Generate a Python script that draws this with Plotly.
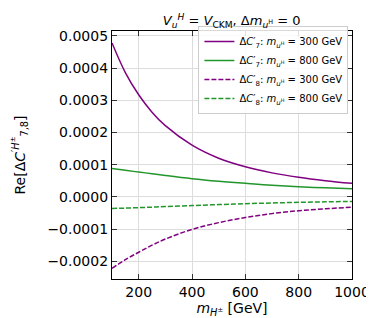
import plotly.graph_objects as go

# Data
m_H = [100, 150, 200, 250, 300, 400, 500, 600, 700, 800, 900, 1000]

c7_300 = [4.78e-4, 3.86e-4, 3.17e-4, 2.63e-4, 2.21e-4, 1.605e-4, 1.20e-4, 0.935e-4, 0.745e-4, 0.608e-4, 0.503e-4, 0.42e-4]
c7_800 = [0.88e-4, 0.825e-4, 0.77e-4, 0.72e-4, 0.665e-4, 0.565e-4, 0.485e-4, 0.42e-4, 0.36e-4, 0.315e-4, 0.28e-4, 0.25e-4]
c8_300 = [-2.22e-4, -1.95e-4, -1.72e-4, -1.50e-4, -1.31e-4, -1.01e-4, -0.80e-4, -0.64e-4, -0.52e-4, -0.43e-4, -0.37e-4, -0.32e-4]
c8_800 = [-0.36e-4, -0.35e-4, -0.335e-4, -0.32e-4, -0.30e-4, -0.27e-4, -0.24e-4, -0.21e-4, -0.19e-4, -0.17e-4, -0.155e-4, -0.14e-4]

x_ticks = [200, 400, 600, 800, 1000]
y_ticks = [-0.0002, -0.0001, 0.0, 0.0001, 0.0002, 0.0003, 0.0004, 0.0005]
y_ticklabels = ["\u22120.0002", "\u22120.0001", "0.0000", "0.0001", "0.0002", "0.0003", "0.0004", "0.0005"]

PURPLE = "#800080"
GREEN = "#22962a"

mlab = "<i>m</i><sub><i>u</i><sup>H</sup></sub>"
series = [
    (c7_300, PURPLE, "solid", "\u0394<i>C</i>\u2032<sub>7</sub>: " + mlab + " = 300 GeV"),
    (c7_800, GREEN, "solid", "\u0394<i>C</i>\u2032<sub>7</sub>: " + mlab + " = 800 GeV"),
    (c8_300, PURPLE, "5px,2px", "\u0394<i>C</i>\u2032<sub>8</sub>: " + mlab + " = 300 GeV"),
    (c8_800, GREEN, "5px,2px", "\u0394<i>C</i>\u2032<sub>8</sub>: " + mlab + " = 800 GeV"),
]

fig = go.Figure()
for ys, col, dash, name in series:
    fig.add_trace(go.Scatter(
        x=m_H, y=ys, mode="lines", name=name,
        line=dict(color=col, width=1.5, dash=dash, shape="spline", smoothing=1.0),
    ))

font = "DejaVu Sans"
fig.update_layout(
    width=374, height=318,
    margin=dict(l=98, r=25, t=23, b=41),
    paper_bgcolor="white", plot_bgcolor="white",
    font=dict(family=font, color="black", size=14),
    showlegend=True,
    legend=dict(
        x=0.985, y=1.02, xanchor="right", yanchor="top",
        bgcolor="rgba(255,255,255,0.85)", bordercolor="#cccccc", borderwidth=1,
        font=dict(size=10, family=font),
        tracegroupgap=0, itemwidth=30,
    ),
    title=dict(
        text="<i>V</i><sub><i>u</i></sub><sup><i>H</i></sup> = <i>V</i><sub>CKM</sub>, \u0394" + mlab + " = 0",
        x=0.598, xanchor="center", y=0.96, yanchor="middle",
        font=dict(size=13, family=font),
    ),
)

axis_common = dict(
    showline=True, linecolor="black", linewidth=1.2, mirror="ticks",
    ticks="inside", ticklen=5, tickwidth=1, tickcolor="#333333",
    showgrid=True, gridcolor="#dddddd", gridwidth=1, zeroline=False,
    tickfont=dict(size=14, family=font),
)
fig.update_xaxes(
    range=[100, 1000], tickvals=x_ticks,
    title=dict(text="<i>m</i><sub><i>H</i><sup>\u00b1</sup></sub> [GeV]", font=dict(size=14, family=font), standoff=4),
    **axis_common,
)
fig.update_yaxes(
    range=[-0.000255, 0.000515], tickvals=y_ticks, ticktext=y_ticklabels,
    title=dict(text="Re[\u0394<i>C</i><sup>\u2032<i>H</i><sup>\u00b1</sup></sup><sub>7,8</sub>]", font=dict(size=14, family=font), standoff=18),
    **axis_common,
)

fig.write_html("out.html")
